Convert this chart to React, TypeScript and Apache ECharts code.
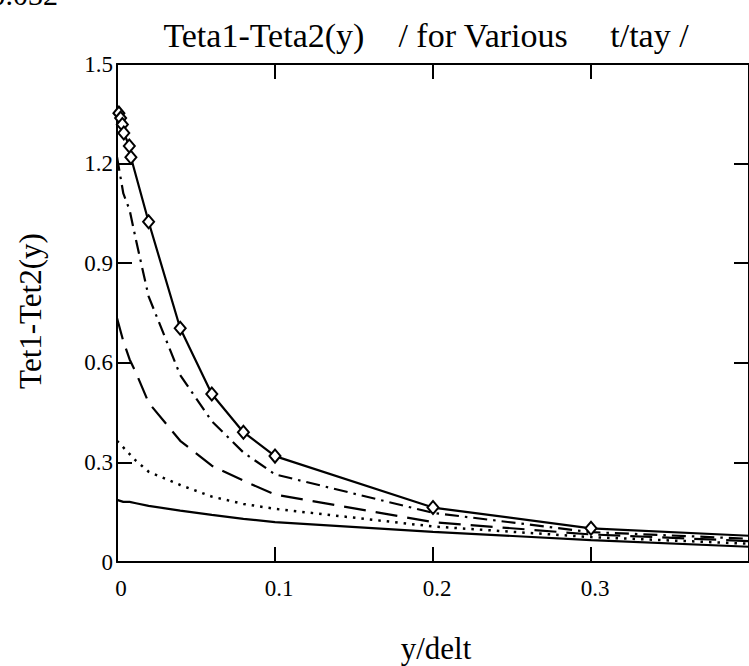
import React, { useEffect, useRef } from 'react';
import * as echarts from 'echarts';

// Tick values
const xTickMin = 0;
const xTickMax = 0.4;
const xTickStep = 0.1;
const yTickMin = 0;
const yTickMax = 1.5;
const yTickStep = 0.3;

// Top curve (solid with diamonds)
const xTop = [0.0012, 0.0023, 0.0034, 0.0043, 0.0078, 0.0088, 0.02, 0.04, 0.06, 0.08, 0.1, 0.2, 0.3, 0.4];
const yTop = [1.352, 1.337, 1.318, 1.292, 1.253, 1.219, 1.025, 0.704, 0.506, 0.391, 0.319, 0.164, 0.1015, 0.079];

// Shared x grid for the other curves
const xGrid = [0, 0.004, 0.008, 0.012, 0.02, 0.04, 0.06, 0.08, 0.1, 0.2, 0.3, 0.4];
const yDashDot = [1.22, 1.11, 1.06, 0.97, 0.8, 0.563, 0.424, 0.33, 0.264, 0.148, 0.09, 0.07];
const yLongDash = [0.735, 0.665, 0.61, 0.57, 0.48, 0.365, 0.29, 0.245, 0.203, 0.12, 0.083, 0.063];
const yDotted = [0.365, 0.345, 0.325, 0.305, 0.272, 0.232, 0.197, 0.175, 0.16, 0.107, 0.075, 0.055];
const yBottom = [0.187, 0.181, 0.181, 0.177, 0.169, 0.155, 0.142, 0.13, 0.12, 0.091, 0.066, 0.046];

const titleText = 'Teta1-Teta2(y)    / for Various     t/tay /';
const yName = 'Tet1-Tet2(y)';
const xName = 'y/delt';
const cornerText = '0.032';

const FONT = '"Liberation Serif", "Times New Roman", serif';

const zip = (xs: number[], ys: number[]) => xs.map((x, i) => [x, ys[i]]);

export default function App() {
  const ref = useRef<HTMLDivElement>(null);
  useEffect(() => {
    if (!ref.current) return;
    const chart = echarts.init(ref.current, undefined, { renderer: 'svg' });
    const axisLine = { show: true, onZero: false, lineStyle: { color: '#000', width: 2 } };
    const axisTick = { show: true, inside: true, length: 15, lineStyle: { color: '#000', width: 2 } };
    const lbl = { fontFamily: FONT, fontSize: 23, color: '#000' };
    const fmt = (v: number) => (v === 0 ? '0' : parseFloat(v.toFixed(2)).toString());
    const line = (data: number[][], type: any, width = 2) => ({
      type: 'line',
      data,
      showSymbol: false,
      symbol: 'none',
      lineStyle: { color: '#000', width, type },
    });
    const topData = zip(xTop, yTop).map((p, i, arr) =>
      i === arr.length - 1 ? { value: p, symbol: 'none' } : { value: p }
    );
    chart.setOption({
      animation: false,
      backgroundColor: '#fff',
      grid: { left: 117, top: 64, right: -3, bottom: 104, containLabel: false },
      xAxis: [
        {
          type: 'value', min: xTickMin, max: xTickMax, interval: xTickStep, position: 'bottom',
          axisLine, axisTick, splitLine: { show: false },
          axisLabel: { ...lbl, margin: 15, showMaxLabel: false, formatter: fmt, padding: [0, 0, 0, 8] },
        },
        {
          type: 'value', min: xTickMin, max: xTickMax, interval: xTickStep, position: 'top',
          axisLine, axisTick, splitLine: { show: false }, axisLabel: { show: false },
        },
      ],
      yAxis: [
        {
          type: 'value', min: yTickMin, max: yTickMax, interval: yTickStep, position: 'left',
          axisLine, axisTick, splitLine: { show: false },
          axisLabel: { ...lbl, margin: 4, formatter: fmt, padding: [9, 0, 0, 0] },
        },
        {
          type: 'value', min: yTickMin, max: yTickMax, interval: yTickStep, position: 'right',
          axisLine, axisTick, splitLine: { show: false }, axisLabel: { show: false },
        },
      ],
      series: [
        line(zip(xGrid, yBottom), 'solid', 2.2),
        line(zip(xGrid, yDotted), [2.5, 6], 2.5),
        line(zip(xGrid, yLongDash), [22, 10], 2.2),
        line(zip(xGrid, yDashDot), [14, 6, 2.5, 6], 2.2),
        {
          type: 'line',
          data: topData,
          symbol: 'diamond',
          symbolSize: [11, 13],
          showSymbol: true,
          clip: false,
          lineStyle: { color: '#000', width: 2.2 },
          itemStyle: { color: '#fff', borderColor: '#000', borderWidth: 2 },
        },
      ],
      graphic: [
        {
          type: 'text', x: 426, y: 35,
          style: { text: titleText, font: `34px ${FONT}`, fill: '#000', textAlign: 'center', textVerticalAlign: 'middle' },
        },
        {
          type: 'text', x: 30, y: 311, rotation: Math.PI / 2,
          style: { text: yName, font: `31px ${FONT}`, fill: '#000', textAlign: 'center', textVerticalAlign: 'middle' },
        },
        {
          type: 'text', x: 436, y: 648,
          style: { text: xName, font: `31px ${FONT}`, fill: '#000', textAlign: 'center', textVerticalAlign: 'middle' },
        },
        {
          type: 'text', x: 58, y: -6,
          style: { text: cornerText, font: `30px ${FONT}`, fill: '#000', textAlign: 'right', textVerticalAlign: 'middle' },
        },
      ],
    });
    return () => chart.dispose();
  }, []);
  return (
    <div
      ref={ref}
      style={{ position: 'absolute', left: 0, top: 0, width: 749, height: 666, background: '#fff' }}
    />
  );
}
